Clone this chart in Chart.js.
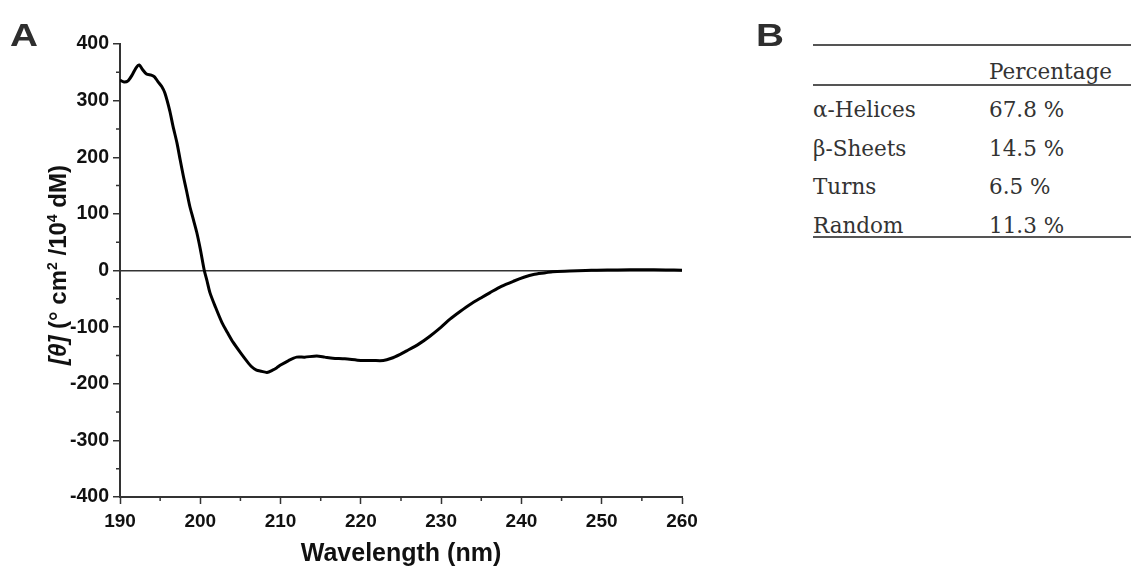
<!DOCTYPE html>
<html>
<head>
<meta charset="utf-8">
<script src="https://cdn.jsdelivr.net/npm/chart.js@4.4.1/dist/chart.umd.min.js"></script>
<style>
  body { margin: 0; background: #fff; }
  #wrap { position: relative; width: 1131px; height: 573px; overflow: hidden; background: #fff; }
  #cd_chart { position: absolute; left: 0; top: 0; }
  .panel { position: absolute; font-family: "Liberation Sans", Arial, sans-serif; font-weight: bold; font-size: 31px; color: #2e2e2e; line-height: 1; transform: scaleX(1.25); transform-origin: left top; }
  .rule { position: absolute; left: 813px; width: 318px; background: #555; }
  .cell { position: absolute; font-family: "DejaVu Serif", serif; font-size: 21.5px; color: #333; line-height: 1; white-space: nowrap; }
</style>
</head>
<body>
<div id="wrap">
  <canvas id="cd_chart" width="760" height="573"></canvas>
  <div class="panel" style="left:10px;top:20px;">A</div>
  <div class="panel" style="left:756px;top:20px;">B</div>
  <div id="table_b"></div>
</div>
<script>
// CD SPECTRUM DATA (wavelength in nm, molar ellipticity)
const wavelengths = [
  190.0, 190.5, 191.0, 191.5, 192.0, 192.4, 192.8, 193.3, 193.9, 194.3,
  194.7, 195.2, 195.6, 196.2, 196.6, 197.1, 197.5, 197.9, 198.3, 198.7,
  199.1, 199.55, 200.0, 200.5, 200.8, 201.2, 201.9, 202.7, 203.4, 204.1,
  205.0, 205.8, 206.4, 207.0, 207.6, 208.3, 209.0, 209.5, 210.0, 211.0,
  212.0, 213.0, 214.5, 215.5, 216.5, 218.0, 220.0, 221.5, 222.8, 223.8,
  224.9, 225.7, 227.2, 228.6, 230.0, 231.1, 232.4, 233.6, 235.0, 236.1,
  237.5, 239.0, 240.3, 241.5, 243.0, 243.9, 246.0, 248.0, 249.4, 252.0,
  255.0, 258.0, 260.0
];
const ellipticity = [
  336, 333, 335, 345, 358, 363, 355, 347, 345, 342,
  334, 325, 313, 282, 255, 225, 195, 166, 140, 113,
  92, 68, 38, 0, -16, -39, -65, -92, -110, -127,
  -145, -160, -170, -176, -178, -180, -176, -172, -167, -159,
  -153, -153, -151, -153, -155, -156, -159, -159, -159, -155,
  -148, -142, -130, -116, -100, -86, -72, -60, -48, -39,
  -28, -19, -12, -7, -4, -2, -1, 0, 0.5, 1,
  1.5, 1, 0.5
];

// TABLE B
const structureNames = ["α-Helices", "β-Sheets", "Turns", "Random"];
const structurePercent = ["67.8 %", "14.5 %", "6.5 %", "11.3 %"];
const tableHeader = "Percentage";

// BUILD TABLE
const table_el = document.getElementById("table_b");
function addCell(text, left, baseline) {
  const d = document.createElement("div");
  d.className = "cell";
  d.textContent = text;
  d.style.left = left + "px";
  d.style.top = (baseline - 18) + "px";
  table_el.appendChild(d);
}
function addRule(top, h) {
  const d = document.createElement("div");
  d.className = "rule";
  d.style.top = top + "px";
  d.style.height = h + "px";
  table_el.appendChild(d);
}
addRule(44, 1.5);
addRule(84, 2);
addRule(236, 2);
addCell(tableHeader, 989, 79);
structureNames.forEach((name, i) => {
  addCell(name, 813, 117 + i * 38.5);
  addCell(structurePercent[i], 989, 117 + i * 38.5);
});

// MINOR TICKS + Y TITLE
const extrasPlugin = {
  id: "extras",
  afterDraw(chart) {
    const c = chart.ctx;
    const xs = chart.scales.x, ys = chart.scales.y;
    c.save();
    c.strokeStyle = "#333";
    c.lineWidth = 1.5;
    c.beginPath();
    xs.ticks.forEach(t => {
      if (t.value % 10 !== 0) {
        const px = xs.getPixelForValue(t.value);
        c.moveTo(px, xs.top);
        c.lineTo(px, xs.top + 4);
      }
    });
    ys.ticks.forEach(t => {
      if (t.value % 100 !== 0) {
        const py = ys.getPixelForValue(t.value);
        c.moveTo(ys.right, py);
        c.lineTo(ys.right - 4, py);
      }
    });
    c.stroke();

    // y axis title with italic and superscripts
    const parts = [
      { t: "[θ]", f: "italic bold 24px 'Liberation Sans', Arial", dy: 0 },
      { t: " (° cm", f: "bold 24px 'Liberation Sans', Arial", dy: 0 },
      { t: "2", f: "bold 14px 'Liberation Sans', Arial", dy: -9 },
      { t: " /10", f: "bold 24px 'Liberation Sans', Arial", dy: 0 },
      { t: "4", f: "bold 14px 'Liberation Sans', Arial", dy: -9 },
      { t: " dM)", f: "bold 24px 'Liberation Sans', Arial", dy: 0 }
    ];
    let total = 0;
    parts.forEach(p => { c.font = p.f; p.w = c.measureText(p.t).width; total += p.w; });
    c.translate(58, 265);
    c.rotate(-Math.PI / 2);
    c.fillStyle = "#111";
    c.textBaseline = "alphabetic";
    let x0 = -total / 2;
    parts.forEach(p => {
      c.font = p.f;
      c.fillText(p.t, x0, 8 + p.dy);
      x0 += p.w;
    });
    c.restore();
  }
};

const ctx = document.getElementById("cd_chart").getContext("2d");
const points = wavelengths.map((w, i) => ({ x: w, y: ellipticity[i] }));

const my_chart = new Chart(ctx, {
  type: "line",
  data: {
    datasets: [{
      label: "CD",
      data: points,
      borderColor: "#000",
      borderWidth: 3,
      pointRadius: 0,
      tension: 0.25,
      fill: false
    }]
  },
  options: {
    responsive: false,
    animation: false,
    events: [],
    layout: { padding: { top: 44, right: 78, left: 0, bottom: 0 } },
    plugins: { legend: { display: false }, tooltip: { enabled: false } },
    scales: {
      x: {
        type: "linear",
        min: 190,
        max: 260,
        afterFit(scale) { scale.height = 76; },
        border: { display: true, color: "#333", width: 2 },
        grid: {
          drawOnChartArea: false,
          tickLength: 7,
          tickWidth: 1.5,
          tickColor: c => (c.tick && c.tick.value % 10 === 0 ? "#333" : "rgba(0,0,0,0)")
        },
        ticks: {
          stepSize: 5,
          padding: 6,
          color: "#111",
          font: { family: "'Liberation Sans', Arial", size: 19, weight: "bold" },
          callback: v => (v % 10 === 0 ? v : "")
        },
        title: {
          display: true,
          text: "Wavelength (nm)",
          color: "#111",
          font: { family: "'Liberation Sans', Arial", size: 25, weight: "bold" },
          padding: { top: 10 }
        }
      },
      y: {
        min: -400,
        max: 400,
        afterFit(scale) { scale.width = 120; },
        border: { display: true, color: "#333", width: 2 },
        grid: {
          drawOnChartArea: true,
          color: c => (c.tick && c.tick.value === 0 ? "#333" : "rgba(0,0,0,0)"),
          lineWidth: 1.5,
          tickLength: 7,
          tickWidth: 1.5,
          tickColor: c => (c.tick && c.tick.value % 100 === 0 ? "#333" : "rgba(0,0,0,0)")
        },
        ticks: {
          stepSize: 50,
          padding: 4,
          color: "#111",
          font: { family: "'Liberation Sans', Arial", size: 19.5, weight: "bold" },
          callback: v => (v % 100 === 0 ? v : "")
        }
      }
    }
  },
  plugins: [extrasPlugin]
});
</script>
</body>
</html>
